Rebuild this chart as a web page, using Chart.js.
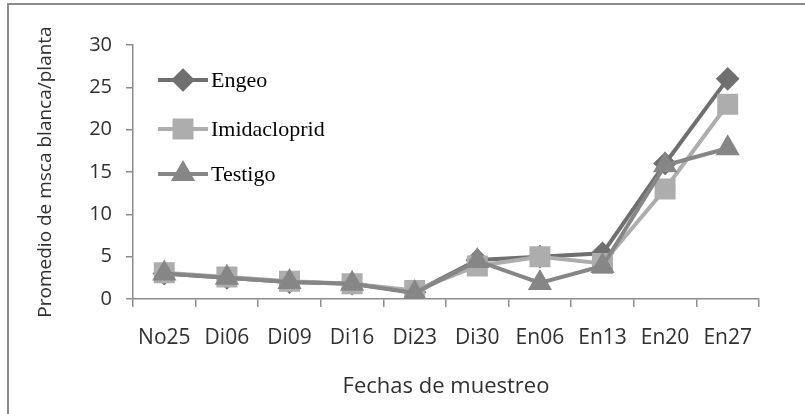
<!DOCTYPE html>
<html>
<head>
<meta charset="utf-8">
<script src="https://cdn.jsdelivr.net/npm/chart.js@4"></script>
<style>
    html, body { margin: 0; padding: 0; background: #fff; }
    canvas { display: block; }
</style>
</head>
<body>
<canvas id="grafico" width="805" height="414"></canvas>
<script>
// fechas de muestreo
const fechas = ['No25', 'Di06', 'Di09', 'Di16', 'Di23', 'Di30', 'En06', 'En13', 'En20', 'En27'];

// promedio de mosca blanca por planta
const engeo        = [3.0, 2.5, 2.0, 1.8, 0.8, 4.6, 5.0, 5.4, 16, 26];
const imidacloprid = [3.1, 2.6, 2.1, 1.8, 1.0, 3.9, 5.0, 4.2, 13, 23];
const testigo      = [3.0, 2.5, 2.0, 1.8, 0.7, 4.5, 1.9, 3.9, 15.8, 17.8];

const yTicks = [0, 5, 10, 15, 20, 25, 30];

const gris = '#8c8c8c';

// marco exterior (solo arriba e izquierda)
const marco = {
    id: 'marco',
    beforeDraw(chart) {
        let ctx = chart.ctx;
        ctx.save();
        ctx.strokeStyle = gris;
        ctx.lineWidth = 2;
        ctx.beginPath();
        ctx.moveTo(805, 4);
        ctx.lineTo(8, 4);
        ctx.lineTo(8, 414);
        ctx.stroke();
        ctx.restore();
    }
};

// leyenda dentro del area, estilo Excel
const leyenda = {
    id: 'leyenda',
    afterDraw(chart) {
        let ctx = chart.ctx;
        let ys = [80, 129, 174];
        chart.data.datasets.forEach((ds, i) => {
            let y = ys[i];
            ctx.save();
            ctx.strokeStyle = ds.borderColor;
            ctx.lineWidth = 4;
            ctx.beginPath();
            ctx.moveTo(158, y);
            ctx.lineTo(208, y);
            ctx.stroke();
            ctx.fillStyle = ds.pointBackgroundColor;
            ctx.strokeStyle = ds.pointBorderColor;
            Chart.helpers.drawPoint(ctx, {
                pointStyle: ds.pointStyle,
                radius: ds.pointRadius,
                rotation: 0,
                borderWidth: 1
            }, 183, y);
            ctx.fillStyle = '#000';
            ctx.font = '22px "Liberation Serif"';
            ctx.textBaseline = 'middle';
            ctx.fillText(ds.label, 211, y + 1);
            ctx.restore();
        });
    }
};

new Chart(document.getElementById('grafico').getContext('2d'), {
    type: 'line',
    data: {
        labels: fechas,
        datasets: [{
            label: 'Engeo',
            data: engeo,
            borderColor: '#6f6f6f',
            pointBackgroundColor: '#6f6f6f',
            pointBorderColor: '#6f6f6f',
            pointStyle: 'rectRot',
            pointRadius: 9,
            borderWidth: 4,
            order: 3
        }, {
            label: 'Imidacloprid',
            data: imidacloprid,
            borderColor: '#adadad',
            pointBackgroundColor: '#adadad',
            pointBorderColor: '#adadad',
            pointStyle: 'rect',
            pointRadius: 12,
            borderWidth: 4,
            order: 2
        }, {
            label: 'Testigo',
            data: testigo,
            borderColor: '#868686',
            pointBackgroundColor: '#868686',
            pointBorderColor: '#868686',
            pointStyle: 'triangle',
            pointRadius: 10,
            borderWidth: 4,
            order: 1
        }]
    },
    options: {
        responsive: false,
        animation: false,
        layout: { padding: { left: 0, right: 46, top: 45, bottom: 0 } },
        plugins: {
            legend: { display: false },
            tooltip: { enabled: false }
        },
        scales: {
            x: {
                offset: true,
                grid: { offset: true, drawOnChartArea: false, tickLength: 8, color: gris, lineWidth: 1.5 },
                border: { color: gris, width: 1.5 },
                ticks: { color: '#303030', font: { family: 'Open Sans', size: 21 }, padding: 18, maxRotation: 0 },
                title: { display: true, text: 'Fechas de muestreo', color: '#303030',
                         font: { family: 'Open Sans', size: 22 }, padding: { top: 0, bottom: 14 } },
                afterFit(scale) { scale.height = 115; }
            },
            y: {
                min: 0,
                max: 30,
                afterBuildTicks(scale) { scale.ticks = yTicks.map(v => ({ value: v })); },
                grid: { drawOnChartArea: false, tickLength: 7, color: gris, lineWidth: 1.5 },
                border: { color: gris, width: 1.5 },
                ticks: { color: '#303030', font: { family: 'Open Sans', size: 20 }, padding: 14 },
                title: { display: true, text: 'Promedio de msca blanca/planta', color: '#303030',
                         font: { family: 'Open Sans', size: 19 }, padding: { top: 34, bottom: 0 } },
                afterFit(scale) { scale.width = 133; }
            }
        }
    },
    plugins: [marco, leyenda]
});
</script>
</body>
</html>
